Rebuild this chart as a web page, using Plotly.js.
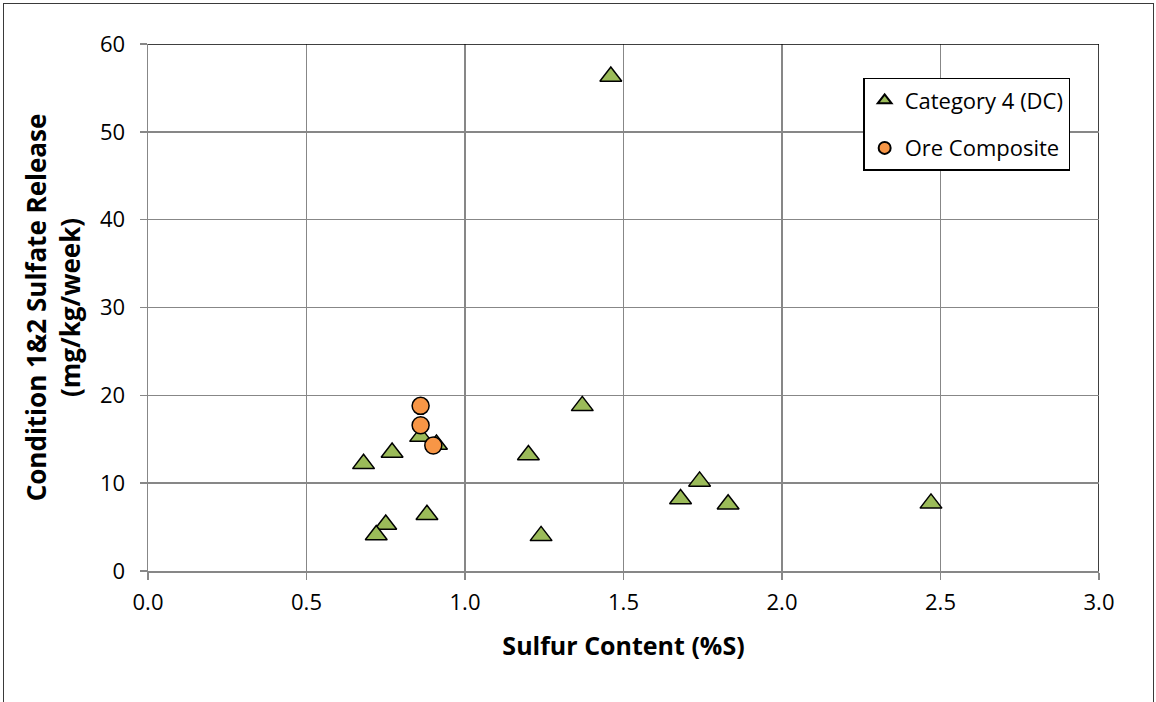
<!DOCTYPE html>
<html>
<head>
<meta charset="utf-8">
<script src="https://cdn.plot.ly/plotly-3.0.1.min.js"></script>
<style>
  html, body { margin: 0; padding: 0; background: #fff; }
  #wrap { position: relative; width: 1156px; height: 702px; overflow: hidden; }
  #chart { width: 1156px; height: 702px; }
  #frame { position: absolute; left: 3px; top: 3px; width: 1149px; height: 720px;
           border: 1.5px solid #3a3a3a; pointer-events: none; }
</style>
</head>
<body>
<div id="wrap">
  <div id="chart"></div>
  <div id="frame"></div>
</div>
<script>
// Category 4 (DC)
const cat4X = [0.68, 0.77, 0.75, 0.72, 0.86, 0.91, 0.88, 1.20, 1.24, 1.37, 1.46, 1.68, 1.74, 1.83, 2.47];
const cat4Y = [12.2, 13.5, 5.3, 4.1, 15.3, 14.4, 6.4, 13.2, 4.0, 18.8, 56.3, 8.2, 10.2, 7.6, 7.7];
// Ore Composite
const oreX = [0.86, 0.86, 0.90];
const oreY = [18.8, 16.6, 14.3];

const seriesNames = ['Category 4 (DC)', 'Ore Composite'];
const xTitle = 'Sulfur Content (%S)';
const yTitle = 'Condition 1&2 Sulfate Release<br>(mg/kg/week)';

const FONT = 'Open Sans, sans-serif';
const GRID = '#878787';

const traces = [
  {
    type: 'scatter', mode: 'markers', name: seriesNames[0],
    x: cat4X, y: cat4Y, legendgroup: 'a',
    marker: { symbol: 'triangle-up', size: 19, color: '#9BBB59', line: { color: '#000', width: 1.5 } },
    cliponaxis: false
  },
  {
    type: 'scatter', mode: 'markers', name: seriesNames[1],
    x: oreX, y: oreY, legendgroup: 'b',
    marker: { symbol: 'circle', size: 17, color: '#F79646', line: { color: '#000', width: 1.5 } },
    cliponaxis: false
  }
];

const layout = {
  width: 1156, height: 702,
  margin: { l: 148, r: 57, t: 44, b: 131 },
  paper_bgcolor: 'rgba(0,0,0,0)', plot_bgcolor: '#fff',
  font: { family: FONT, color: '#000', size: 22 },
  showlegend: true,
  legend: {
    x: 0.752, y: 0.9355, xanchor: 'left', yanchor: 'top',
    bgcolor: '#fff', bordercolor: '#000', borderwidth: 1.5,
    font: { family: FONT, size: 22, color: '#000' },
    traceorder: 'grouped', tracegroupgap: 16,
    itemsizing: 'constant', itemwidth: 30
  },
  xaxis: {
    range: [0, 3], dtick: 0.5, tick0: 0, tickformat: '.1f',
    showgrid: true, gridcolor: GRID, gridwidth: 1.5,
    showline: true, linecolor: GRID, linewidth: 1.5,
    ticks: 'outside', ticklen: 7, tickwidth: 1.5, tickcolor: GRID,
    ticklabelstandoff: 4,
    zeroline: false,
    tickfont: { family: FONT, size: 22, color: '#000' },
    title: { text: xTitle, font: { family: FONT, size: 25, color: '#000', weight: 'bold' }, standoff: 22 },
    fixedrange: true
  },
  yaxis: {
    range: [0, 60], dtick: 10, tick0: 0,
    showgrid: true, gridcolor: GRID, gridwidth: 1.5,
    showline: true, linecolor: GRID, linewidth: 1.5,
    ticks: 'outside', ticklen: 7, tickwidth: 1.5, tickcolor: GRID,
    ticklabelstandoff: 10,
    zeroline: false,
    tickfont: { family: FONT, size: 22, color: '#000' },
    title: { text: yTitle, font: { family: FONT, size: 26, color: '#000', weight: 'bold' }, standoff: 12 },
    fixedrange: true
  },
  shapes: [
    { type: 'line', xref: 'x', yref: 'y', x0: 0, x1: 3, y0: 60, y1: 60, line: { color: '#000', width: 1.5 }, layer: 'above' },
    { type: 'line', xref: 'x', yref: 'y', x0: 3, x1: 3, y0: 0, y1: 60, line: { color: '#000', width: 1.5 }, layer: 'below' }
  ]
};

Plotly.newPlot('chart', traces, layout, { displayModeBar: false, staticPlot: true });
</script>
</body>
</html>
